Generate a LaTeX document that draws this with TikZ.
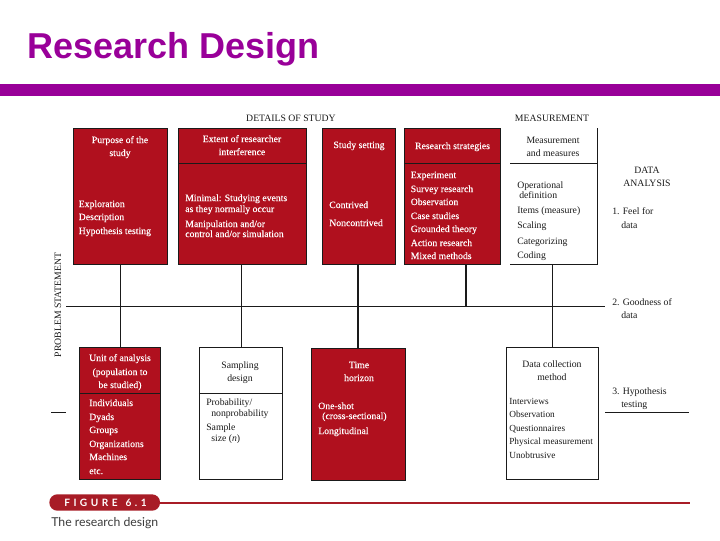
\documentclass[tikz,border=0pt]{standalone}
\usepackage{fontspec}
\setmainfont{Liberation Serif}
\newfontfamily\arialfont{Liberation Sans}
\newfontfamily\capfont{Lato}
\newfontfamily\redfont[FakeBold=0.25]{Liberation Serif}
\definecolor{slidepurple}{HTML}{990099}
\definecolor{boxred}{HTML}{B0101E}
\definecolor{barred}{HTML}{A81C26}
\definecolor{inkdark}{HTML}{1A1A1A}
\tikzset{
  redbox/.style={draw=inkdark,line width=0.5pt,fill=boxred,inner sep=0pt,rectangle},
  whitebox/.style={draw=inkdark,line width=0.75pt,fill=white,inner sep=0pt,rectangle},
  thinline/.style={draw=inkdark,line width=0.6pt},
  thickline/.style={draw=inkdark,line width=1.1pt},
  wc/.style={text=white,anchor=mid,inner sep=0pt,font=\redfont\fontsize{7.3}{8}\selectfont},
  wl/.style={text=white,anchor=mid west,inner sep=0pt,font=\redfont\fontsize{7.3}{8}\selectfont},
  kc/.style={text=inkdark,anchor=mid,inner sep=0pt,font=\fontsize{7.3}{8}\selectfont},
  kl/.style={text=inkdark,anchor=mid west,inner sep=0pt,font=\fontsize{7.3}{8}\selectfont},
  kn/.style={kl,font=\fontsize{7}{8}\selectfont}
}
\begin{document}
\begin{tikzpicture}[x=0.75pt,y=-0.75pt]
\useasboundingbox (0,0) rectangle (720,540);
\fill[white] (0,0) rectangle (720,540);
% slide header
\node[anchor=base west,inner sep=0pt,text=slidepurple,font=\arialfont\bfseries\fontsize{27}{30}\selectfont] (title) at (27,58) {Research Design};
\fill[slidepurple] (0,84) rectangle (720,96);
% section headers
\node[kc] (details) at (291,118.5) {DETAILS OF STUDY};
\node[kc] (meashead) at (552,118.5) {MEASUREMENT};
\node[kc,rotate=90] (problem) at (58,305) {PROBLEM STATEMENT};
% connectors (behind boxes)
\coordinate (leftend) at (66,306.3);
\coordinate (rightend) at (605,306.3);
\coordinate (stratbot) at (466,264);
\coordinate (stratjoin) at (466,306.3);
\coordinate (tickA) at (51,412);
\coordinate (tickB) at (66,412);
\coordinate (tickC) at (605,412);
\coordinate (tickD) at (689,412);
% upper boxes
\node[redbox,minimum width=70.8pt,minimum height=102.2pt] (purpose) at (120.5,196.2) {};
\node[redbox,minimum width=95.8pt,minimum height=102.2pt] (extent) at (242.2,196.2) {};
\node[redbox,minimum width=54.5pt,minimum height=102.2pt] (setting) at (358.7,196.2) {};
\node[redbox,minimum width=72.3pt,minimum height=102.2pt] (strategies) at (452.5,196.2) {};
\coordinate (measNE) at (597.5,128);
\coordinate (measSE) at (597.5,264.3);
\coordinate (measSW) at (510,264.3);
\coordinate (measMW) at (510,163.3);
\coordinate (measME) at (597.5,163.3);
\draw[thinline] (measNE) -- (measSE) -- (measSW);
\draw[thinline] (measMW) -- (measME);
\draw[thinline] (extent.west |- measMW) -- (extent.east |- measMW);
\draw[thinline] (strategies.west |- measMW) -- (strategies.east |- measMW);
% lower boxes
\node[redbox,minimum width=61pt,minimum height=99pt] (unit) at (120,413.3) {};
\node[whitebox,minimum width=62.5pt,minimum height=99pt] (sampling) at (241,413.3) {};
\node[redbox,minimum width=70.5pt,minimum height=99pt] (horizon) at (358,414.3) {};
\node[whitebox,minimum width=69.3pt,minimum height=99pt] (collection) at (552.5,413.3) {};
\coordinate (unitdivL) at (79.3,393.3);
\draw[thinline] (unit.west |- unitdivL) -- (unit.east |- unitdivL);
\draw[thinline] (sampling.west |- unitdivL) -- (sampling.east |- unitdivL);
% connectors
\draw[thinline] (leftend) -- (rightend);
\draw[thinline] (purpose.south -| unit.north) -- (unit.north);
\draw[thinline] (extent.south -| sampling.north) -- (sampling.north);
\draw[thickline] (setting.south -| horizon.north) -- (horizon.north);
\draw[thickline] (stratbot) -- (stratjoin);
\draw[thickline] (measSW -| collection.north) -- (collection.north);
\draw[thinline] (tickA) -- (tickB);
\draw[thinline] (tickC) -- (tickD);
% purpose
\node[wc] (a1) at (120,140) {Purpose of the};
\node[wc] (a2) at (120,153) {study};
\node[wl] (a3) at (78.5,204) {Exploration};
\node[wl] (a4) at (78.5,217) {Description};
\node[wl] (a5) at (78.5,231) {Hypothesis testing};
% extent
\node[wc] (b1) at (242,139) {Extent of researcher};
\node[wc] (b2) at (242,152) {interference};
\node[wl] (b3) at (185,198) {Minimal: Studying events};
\node[wl] (b4) at (185,209) {as they normally occur};
\node[wl] (b5) at (185,224) {Manipulation and/or};
\node[wl] (b6) at (185,234) {control and/or simulation};
% setting
\node[wc] (c1) at (359,145) {Study setting};
\node[wl] (c2) at (329,205) {Contrived};
\node[wl] (c3) at (329,223) {Noncontrived};
% strategies
\node[wc] (d0) at (452.5,146) {Research strategies};
\node[wl] (d1) at (410.5,175) {Experiment};
\node[wl] (d2) at (410.5,189) {Survey research};
\node[wl] (d3) at (410.5,202) {Observation};
\node[wl] (d4) at (410.5,216) {Case studies};
\node[wl] (d5) at (410.5,229) {Grounded theory};
\node[wl] (d6) at (410.5,243) {Action research};
\node[wl] (d7) at (410.5,256) {Mixed methods};
% measurement
\node[kc] (e1) at (553,140) {Measurement};
\node[kc] (e2) at (553,153) {and measures};
\node[kl] (e3) at (517,185) {Operational};
\node[kl] (e4) at (519,195.5) {definition};
\node[kl] (e5) at (517,210) {Items (measure)};
\node[kl] (e6) at (517,225) {Scaling};
\node[kl] (e7) at (517,241) {Categorizing};
\node[kl] (e8) at (517,255) {Coding};
% data analysis
\node[kc] (f1) at (647,170) {DATA};
\node[kc] (f2) at (647,183) {ANALYSIS};
\node[kl] (f3) at (612,211) {1. Feel for};
\node[kl] (f4) at (621,225) {data};
\node[kl] (f5) at (612,302) {2. Goodness of};
\node[kl] (f6) at (621,315) {data};
\node[kl] (f7) at (612,391) {3. Hypothesis};
\node[kl] (f8) at (621,404) {testing};
% unit
\node[wc] (g1) at (120,358) {Unit of analysis};
\node[wc] (g2) at (120,372) {(population to};
\node[wc] (g3) at (120,385) {be studied)};
\node[wl] (g4) at (89,403) {Individuals};
\node[wl] (g5) at (89,417) {Dyads};
\node[wl] (g6) at (89,430) {Groups};
\node[wl] (g7) at (89,444) {Organizations};
\node[wl] (g8) at (89,457) {Machines};
\node[wl] (g9) at (89,471) {etc.};
% sampling
\node[kc] (h1) at (240,365) {Sampling};
\node[kc] (h2) at (240,378) {design};
\node[kl] (h3) at (206,402) {Probability/};
\node[kl] (h4) at (211,413) {nonprobability};
\node[kl] (h5) at (206,427) {Sample};
\node[kl] (h6) at (211,438) {size (\textit{n})};
% horizon
\node[wc] (i1) at (359,365) {Time};
\node[wc] (i2) at (359,378) {horizon};
\node[wl] (i3) at (318,406) {One-shot};
\node[wl] (i4) at (322,416) {(cross-sectional)};
\node[wl] (i5) at (318,431) {Longitudinal};
% collection
\node[kc] (j1) at (552,364) {Data collection};
\node[kc] (j2) at (552,377) {method};
\node[kn] (j3) at (509,401) {Interviews};
\node[kn] (j4) at (509,414) {Observation};
\node[kn] (j5) at (509,428) {Questionnaires};
\node[kn] (j6) at (509,441) {Physical measurement};
\node[kn] (j7) at (509,455) {Unobtrusive};
% figure caption
\draw[barred,line width=1.6pt] (158,502.7) -- (690,502.7);
\node[fill=barred,rounded corners=6pt,minimum width=83pt,minimum height=12.3pt,inner sep=0pt] (pill) at (104.7,502.5) {};
\node[anchor=center,inner sep=0pt,text=white,font=\capfont\bfseries\fontsize{7.6}{8}\selectfont,align=center] (figlabel) at (105.5,503) {F\hspace{2.6pt}I\hspace{2.6pt}G\hspace{2.6pt}U\hspace{2.6pt}R\hspace{2.6pt}E\hspace{6pt}6\hspace{2.6pt}.\hspace{2.6pt}1};
\node[anchor=mid west,inner sep=0pt,text=inkdark!85,font=\capfont\fontsize{9.2}{10}\selectfont] (figcap) at (51,523) {The research design};
\end{tikzpicture}
\end{document}
